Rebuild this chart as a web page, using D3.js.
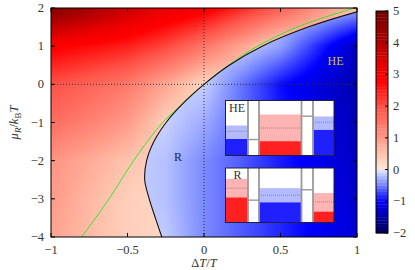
<!DOCTYPE html>
<html>
<head>
<meta charset="utf-8">
<script src="https://cdn.jsdelivr.net/npm/d3@7"></script>
<style>
body { margin: 0; background: #fff; }
</style>
</head>
<body>
<div id="chart"></div>
<script>
// grid the colour field was read on
var gridX = [-1, -0.75, -0.5, -0.25, 0, 0.25, 0.5, 0.75, 1];
var gridY = [2, 1, 0, -1, -2, -3, -4];

// field left of the boundary (red side)
var redField = [
  [4.7, 4.2, 3.7, 3.3, 3.0, 2.4, 1.8, 1.1, 0.5],
  [2.9, 2.7, 2.5, 2.1, 1.5, 0.85, 0.25, 0.25, 0.25],
  [2.0, 1.75, 1.45, 0.85, 0.25, 0.25, 0.25, 0.25, 0.25],
  [1.6, 1.35, 1.0, 0.35, 0.25, 0.25, 0.25, 0.25, 0.25],
  [1.1, 0.8, 0.5, 0.25, 0.25, 0.25, 0.25, 0.25, 0.25],
  [1.0, 0.65, 0.35, 0.25, 0.25, 0.25, 0.25, 0.25, 0.25],
  [0.9, 0.6, 0.35, 0.25, 0.25, 0.25, 0.25, 0.25, 0.25]
];
// field right of the boundary (blue side)
var blueField = [
  [-0.12, -0.12, -0.12, -0.12, -0.12, -0.12, -0.12, -0.15, -0.3],
  [-0.12, -0.12, -0.12, -0.12, -0.12, -0.12, -0.35, -0.85, -1.35],
  [-0.12, -0.12, -0.12, -0.12, -0.12, -0.55, -0.95, -1.2, -1.45],
  [-0.12, -0.12, -0.12, -0.12, -0.3, -0.6, -0.9, -1.15, -1.4],
  [-0.12, -0.12, -0.12, -0.2, -0.45, -0.65, -0.9, -1.1, -1.35],
  [-0.12, -0.12, -0.12, -0.2, -0.45, -0.65, -0.85, -1.05, -1.3],
  [-0.12, -0.12, -0.12, -0.15, -0.45, -0.65, -0.85, -1.05, -1.2]
];

// black boundary and green curve, [dT/T, mu/kT]
var boundary = [[1.04, 1.94], [1.0, 1.9], [0.68, 1.5], [0.38, 1.0], [0.165, 0.5], [0, 0],
  [-0.1375, -0.5], [-0.2475, -1], [-0.3275, -1.5], [-0.375, -2], [-0.3875, -2.5],
  [-0.358, -3], [-0.318, -3.5], [-0.276, -4], [-0.26, -4.2]];
var greenLine = [[1.02, 2.03], [0.985, 2], [0.61, 1.5], [0.35, 1], [0.16, 0.5], [0, 0],
  [-0.135, -0.5], [-0.27, -1], [-0.46, -2], [-0.62, -3], [-0.80, -4], [-0.82, -4.1]];

var xTicks = [-1, -0.5, 0, 0.5, 1];
var yTicks = [2, 1, 0, -1, -2, -3, -4];
var cbTicks = [5, 4, 3, 2, 1, 0, -1, -2];
var cbStops = [-2, -1.6, -1, -0.5, -0.05, 0, 0.05, 0.5, 1, 2, 2.8, 3.2, 4, 5];
var cbColors = ["#00005a", "#000095", "#0000ff", "#7080ff", "#d8e0ff", "#ffffff", "#ffe4d4",
  "#ffc4ae", "#ff9a88", "#ff5046", "#ff0000", "#ee0000", "#b00000", "#700000"];

// inset levels, fraction of inset height: leads [filled top, mu, smeared top], dots [level]
var heKinds = ["blue", "dot", "red", "dot", "blue"];
var heLevels = [[0.30, 0.44, 0.545], [0.29], [0.26, 0.50, 0.745], [0.715], [0.465, 0.605, 0.71]];
var rKinds = ["red", "dot", "blue", "dot", "red"];
var rLevels = [[0.46, 0.63, 0.80], [0.41], [0.37, 0.50, 0.63], [0.60], [0.20, 0.38, 0.54]];

var W = 415, H = 270;
var m = {left: 51, right: 357, top: 8, bottom: 237};
var serif = "'Liberation Serif', 'DejaVu Serif', serif";
var ink = "#333";

var x = d3.scaleLinear().domain([-1, 1]).range([m.left, m.right]);
var y = d3.scaleLinear().domain([-4, 2]).range([m.bottom, m.top]);
var color = d3.scaleLinear().domain(cbStops).range(cbColors).clamp(true);
var gx = d3.scaleLinear().domain([gridX[0], gridX[gridX.length - 1]]).range([0, gridX.length - 1]);
var gy = d3.scaleLinear().domain([gridY[0], gridY[gridY.length - 1]]).range([0, gridY.length - 1]);

var svg = d3.select("#chart").append("svg")
    .attr("width", W)
    .attr("height", H)
    .style("font-family", serif);

var defs = svg.append("defs");
defs.append("clipPath").attr("id", "plotclip")
  .append("rect")
    .attr("x", m.left).attr("y", m.top)
    .attr("width", m.right - m.left).attr("height", m.bottom - m.top);

var line = d3.line()
    .x(function (d) { return x(d[0]); })
    .y(function (d) { return y(d[1]); })
    .curve(d3.curveCatmullRom);

defs.append("clipPath").attr("id", "blueclip")
  .append("path")
    .attr("d", line(boundary) + "L" + x(1.3) + "," + y(-4.6) + "L" + x(1.3) + "," + y(2.6) + "Z");

// look up a grid value at a data point
function fieldAt(field, dx, dy) {
  var fx = Math.max(0, Math.min(gridX.length - 1.0001, gx(dx)));
  var fy = Math.max(0, Math.min(gridY.length - 1.0001, gy(dy)));
  var i = Math.floor(fx), j = Math.floor(fy);
  var tx = fx - i, ty = fy - j;
  var a = field[j][i] * (1 - tx) + field[j][i + 1] * tx;
  var b = field[j + 1][i] * (1 - tx) + field[j + 1][i + 1] * tx;
  return a * (1 - ty) + b * ty;
}

function fieldImage(field) {
  var w = m.right - m.left, h = m.bottom - m.top;
  var cv = document.createElement("canvas");
  cv.width = w; cv.height = h;
  var ctx = cv.getContext("2d");
  var img = ctx.createImageData(w, h);
  for (var r = 0; r < h; r++) {
    for (var c = 0; c < w; c++) {
      var v = fieldAt(field, x.invert(m.left + c + 0.5), y.invert(m.top + r + 0.5));
      var col = d3.rgb(color(v));
      var k = (r * w + c) * 4;
      img.data[k] = col.r; img.data[k + 1] = col.g; img.data[k + 2] = col.b; img.data[k + 3] = 255;
    }
  }
  ctx.putImageData(img, 0, 0);
  return cv.toDataURL();
}

var plot = svg.append("g").attr("clip-path", "url(#plotclip)");

plot.append("image")
    .attr("x", m.left).attr("y", m.top)
    .attr("width", m.right - m.left).attr("height", m.bottom - m.top)
    .attr("href", fieldImage(redField));

plot.append("g").attr("clip-path", "url(#blueclip)")
  .append("image")
    .attr("x", m.left).attr("y", m.top)
    .attr("width", m.right - m.left).attr("height", m.bottom - m.top)
    .attr("href", fieldImage(blueField));

// dotted zero lines
plot.append("line")
    .attr("x1", x(0)).attr("x2", x(0)).attr("y1", m.top).attr("y2", m.bottom)
    .attr("stroke", "#333").attr("stroke-dasharray", "1,2");
plot.append("line")
    .attr("x1", m.left).attr("x2", m.right).attr("y1", y(0)).attr("y2", y(0))
    .attr("stroke", "#333").attr("stroke-dasharray", "1,2");

plot.append("path")
    .attr("d", line(greenLine))
    .attr("fill", "none").attr("stroke", "#33e633").attr("stroke-width", 1);
plot.append("path")
    .attr("d", line(boundary))
    .attr("fill", "none").attr("stroke", "#111").attr("stroke-width", 1.1);

svg.append("text")
    .attr("x", x(-0.17)).attr("y", y(-1.9) + 4)
    .attr("text-anchor", "middle").attr("font-size", 12).attr("fill", "#24244a")
    .text("R");
svg.append("text")
    .attr("x", x(0.86)).attr("y", y(0.61) + 4)
    .attr("text-anchor", "middle").attr("font-size", 12).attr("fill", "#d4c22c")
    .text("HE");

// insets
var insetEdges = [225.5, 248, 259, 301.5, 313, 334];
var fills = {
  blue: ["#2020ff", "#b4baff"],
  red: ["#ff2020", "#ffb4b4"]
};

function drawInset(top, bottom, kinds, levels, label, labelX) {
  var g = svg.append("g");
  var ly = d3.scaleLinear().domain([0, 1]).range([bottom, top]);
  g.append("rect")
      .attr("x", insetEdges[0]).attr("y", top)
      .attr("width", insetEdges[5] - insetEdges[0]).attr("height", bottom - top)
      .attr("fill", "#fff");
  kinds.forEach(function (kind, i) {
    var x0 = insetEdges[i], x1 = insetEdges[i + 1];
    var lv = levels[i];
    if (kind === "dot") {
      g.append("line")
          .attr("x1", x0).attr("x2", x1).attr("y1", ly(lv[0])).attr("y2", ly(lv[0]))
          .attr("stroke", "#999").attr("stroke-width", 1.4);
    } else {
      g.append("rect")
          .attr("x", x0).attr("y", ly(lv[2]))
          .attr("width", x1 - x0).attr("height", ly(lv[0]) - ly(lv[2]))
          .attr("fill", fills[kind][1]);
      g.append("rect")
          .attr("x", x0).attr("y", ly(lv[0]))
          .attr("width", x1 - x0).attr("height", bottom - ly(lv[0]))
          .attr("fill", fills[kind][0]);
      g.append("line")
          .attr("x1", x0).attr("x2", x1).attr("y1", ly(lv[1])).attr("y2", ly(lv[1]))
          .attr("stroke", "#777").attr("stroke-width", 0.8).attr("stroke-dasharray", "1,1");
    }
  });
  insetEdges.slice(1, 5).forEach(function (e) {
    g.append("line")
        .attr("x1", e).attr("x2", e).attr("y1", top).attr("y2", bottom)
        .attr("stroke", "#999").attr("stroke-width", 1.8);
  });
  g.append("rect")
      .attr("x", insetEdges[0]).attr("y", top)
      .attr("width", insetEdges[5] - insetEdges[0]).attr("height", bottom - top)
      .attr("fill", "none").attr("stroke", "#20203c").attr("stroke-width", 1);
  g.append("text")
      .attr("x", labelX).attr("y", top + 11)
      .attr("text-anchor", "middle").attr("font-size", 12).attr("fill", ink)
      .text(label);
}

drawInset(100.5, 155.5, heKinds, heLevels, "HE", 237);
drawInset(168, 222.5, rKinds, rLevels, "R", 237.5);

// frame and ticks
svg.append("rect")
    .attr("x", m.left).attr("y", m.top)
    .attr("width", m.right - m.left).attr("height", m.bottom - m.top)
    .attr("fill", "none").attr("stroke", "#000").attr("stroke-width", 1);

var ticks = svg.append("g").attr("stroke", "#000").attr("stroke-width", 1);
xTicks.forEach(function (t) {
  ticks.append("line").attr("x1", x(t)).attr("x2", x(t)).attr("y1", m.bottom).attr("y2", m.bottom - 4);
  ticks.append("line").attr("x1", x(t)).attr("x2", x(t)).attr("y1", m.top).attr("y2", m.top + 4);
});
yTicks.forEach(function (t) {
  ticks.append("line").attr("x1", m.left).attr("x2", m.left + 4).attr("y1", y(t)).attr("y2", y(t));
  ticks.append("line").attr("x1", m.right).attr("x2", m.right - 4).attr("y1", y(t)).attr("y2", y(t));
});

function fmt(t) { return t < 0 ? "\u2212" + Math.abs(t) : String(t); }

svg.append("g").selectAll("text").data(xTicks).enter().append("text")
    .attr("x", function (d) { return x(d); })
    .attr("y", 254)
    .attr("text-anchor", "middle").attr("font-size", 12.5).attr("fill", ink)
    .text(fmt);
svg.append("g").selectAll("text").data(yTicks).enter().append("text")
    .attr("x", 44)
    .attr("y", function (d) { return y(d) + 4; })
    .attr("text-anchor", "end").attr("font-size", 12.5).attr("fill", ink)
    .text(fmt);

var xt = svg.append("text")
    .attr("x", x(0)).attr("y", 267)
    .attr("text-anchor", "middle").attr("font-size", 12.5).attr("fill", ink);
xt.append("tspan").text("\u0394");
xt.append("tspan").attr("font-style", "italic").text("T");
xt.append("tspan").text("/");
xt.append("tspan").attr("font-style", "italic").text("T");

var yt = svg.append("text")
    .attr("transform", "translate(18," + ((m.top + m.bottom) / 2) + ") rotate(-90)")
    .attr("text-anchor", "middle").attr("font-size", 12.5).attr("fill", ink);
yt.append("tspan").attr("font-style", "italic").text("\u03bc");
yt.append("tspan").attr("font-style", "italic").attr("font-size", 9).attr("dy", 3).text("R");
yt.append("tspan").attr("dy", -3).text("/");
yt.append("tspan").attr("font-style", "italic").text("k");
yt.append("tspan").attr("font-size", 9).attr("dy", 3).text("B");
yt.append("tspan").attr("font-style", "italic").attr("dy", -3).text("T");

// colour bar
var cb = {left: 376, right: 388};
var cbY = d3.scaleLinear().domain([-2, 5]).range([233, 11]);
var steps = d3.range(-2, 5, 0.1);
svg.append("g").selectAll("rect").data(steps).enter().append("rect")
    .attr("x", cb.left)
    .attr("y", function (d) { return cbY(d + 0.1); })
    .attr("width", cb.right - cb.left)
    .attr("height", cbY(0) - cbY(0.1) + 0.3)
    .attr("fill", function (d) { return color(d + 0.05); });
svg.append("rect")
    .attr("x", cb.left).attr("y", cbY(5))
    .attr("width", cb.right - cb.left).attr("height", cbY(-2) - cbY(5))
    .attr("fill", "none").attr("stroke", "#000").attr("stroke-width", 1);
cbTicks.forEach(function (t) {
  svg.append("line")
      .attr("x1", cb.right).attr("x2", cb.right - 3).attr("y1", cbY(t)).attr("y2", cbY(t))
      .attr("stroke", "#000");
});
svg.append("g").selectAll("text").data(cbTicks).enter().append("text")
    .attr("x", 393)
    .attr("y", function (d) { return cbY(d) + 4; })
    .attr("font-size", 12.5).attr("fill", ink)
    .text(fmt);
</script>
</body>
</html>
